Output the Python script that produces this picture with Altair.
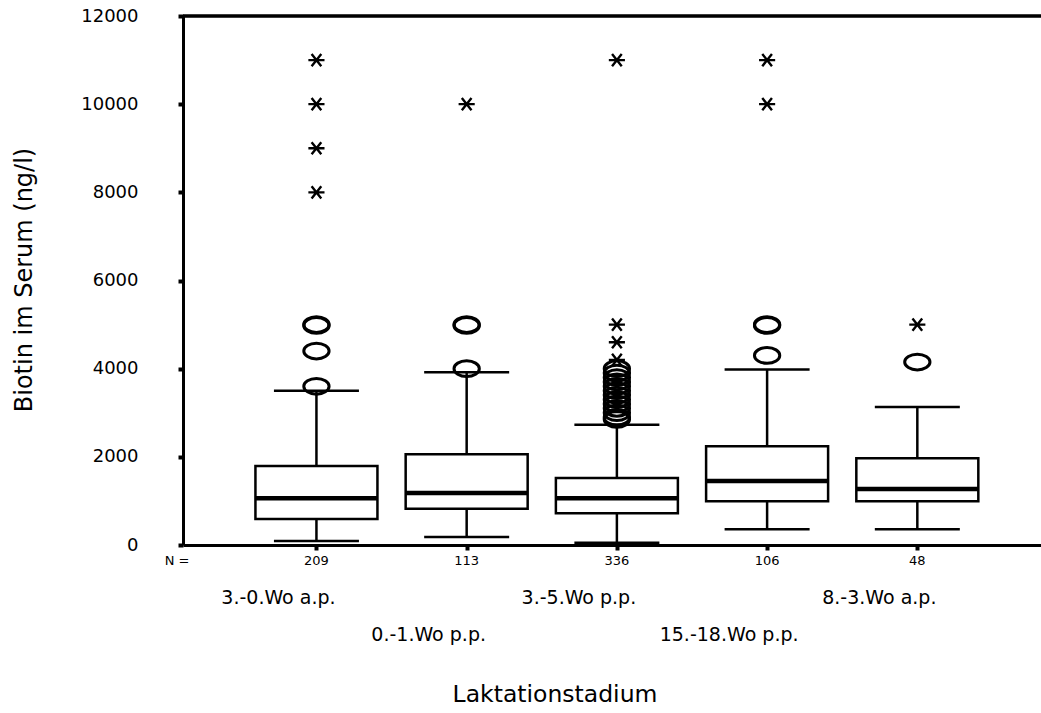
import altair as alt
import pandas as pd

# ---- data ----
groups = ["3.-0.Wo a.p.", "0.-1.Wo p.p.", "3.-5.Wo p.p.", "15.-18.Wo p.p.", "8.-3.Wo a.p."]
positions = [1, 2, 3, 4, 5]
counts = [209, 113, 336, 106, 48]
whisker_low = [90, 180, 50, 360, 360]
q1 = [590, 820, 720, 990, 990]
median = [1060, 1180, 1060, 1450, 1270]
q3 = [1790, 2060, 1520, 2240, 1970]
whisker_high = [3500, 3920, 2730, 3980, 3130]
label_row = [1, 2, 1, 2, 1]

outlier_pos = [1, 1, 1, 1,
               2, 2, 2,
               3, 3, 3, 3, 3, 3, 3, 3, 3, 3, 3, 3, 3,
               4, 4, 4,
               5]
outlier_value = [5000, 4980, 4400, 3600,
                 5000, 4980, 4000,
                 2850, 2900, 3000, 3100, 3200, 3300, 3400, 3500, 3600, 3700, 3800, 3900, 4000,
                 5000, 4980, 4300,
                 4150]

extreme_pos = [1, 1, 1, 1, 2, 3, 3, 3, 3, 4, 4, 5]
extreme_value = [11000, 10000, 9000, 8000, 10000, 11000, 5000, 4600, 4200, 11000, 10000, 5000]

y_ticks = [0, 2000, 4000, 6000, 8000, 10000, 12000]
n_label = ["N ="]
y_title = ["Biotin im Serum (ng/l)"]
x_title = ["Laktationstadium"]

# ---- tables ----
box_df = pd.DataFrame({
    "group": groups, "pos": positions, "n": counts,
    "lo": whisker_low, "q1": q1, "med": median, "q3": q3, "hi": whisker_high,
    "row": label_row,
})
out_df = pd.DataFrame({"pos": outlier_pos, "value": outlier_value})
ext_df = pd.DataFrame({"pos": extreme_pos, "value": extreme_value})

FONT = "DejaVu Sans"
W, H = 858, 529

xscale = alt.Scale(domain=[0.145, 5.79], nice=False, zero=False)
yscale = alt.Scale(domain=[0, 12000], nice=False, zero=True)

x_axis = alt.Axis(values=positions, labels=False, title=None, grid=False,
                  ticks=True, tickSize=5, tickWidth=4, tickColor="black",
                  domainColor="black", domainWidth=3)
y_axis = alt.Axis(values=y_ticks, title=None, grid=False, format="d",
                  ticks=True, tickSize=5, tickWidth=4, tickColor="black",
                  domainColor="black", domainWidth=3,
                  labelFont=FONT, labelFontSize=18, labelColor="black",
                  labelPadding=40)


def X():
    return alt.X("pos:Q", scale=xscale, axis=x_axis)


def Y(field):
    return alt.Y(field, scale=yscale, axis=y_axis)


base = alt.Chart(box_df)

wl = base.mark_rule(strokeWidth=2.5, color="black").encode(
    x=X(), y=Y("lo:Q"), y2="q1:Q")
wh = base.mark_rule(strokeWidth=2.5, color="black").encode(
    x=X(), y=Y("q3:Q"), y2="hi:Q")
box = base.mark_bar(size=122, fill="white", stroke="black", strokeWidth=2.5).encode(
    x=X(), y=Y("q1:Q"), y2="q3:Q")
cap_lo = base.mark_tick(orient="horizontal", size=85, thickness=2.5, color="black", opacity=1).encode(
    x=X(), y=Y("lo:Q"))
cap_hi = base.mark_tick(orient="horizontal", size=85, thickness=2.5, color="black", opacity=1).encode(
    x=X(), y=Y("hi:Q"))
med = base.mark_tick(orient="horizontal", size=122, thickness=4.5, color="black", opacity=1).encode(
    x=X(), y=Y("med:Q"))

ellipse = "M -1 0 A 1 0.62 0 1 0 1 0 A 1 0.62 0 1 0 -1 0 Z"
asterisk = "M -1 0 L 1 0 M -0.6 -0.75 L 0.6 0.75 M -0.6 0.75 L 0.6 -0.75"

circles = alt.Chart(out_df).mark_point(shape=ellipse, size=640, filled=False,
                                        stroke="black", strokeWidth=3, opacity=1).encode(
    x=X(), y=Y("value:Q"))
stars = alt.Chart(ext_df).mark_point(shape=asterisk, size=260, filled=False,
                                      stroke="black", strokeWidth=2.4, opacity=1).encode(
    x=X(), y=Y("value:Q"))

top_line = base.mark_rule(strokeWidth=2.5, color="black").encode(
    x=alt.value(0), x2=alt.value(W), y=alt.value(0))

n_text = base.mark_text(font=FONT, fontSize=13, color="black", baseline="middle").encode(
    x=X(), y=alt.value(H + 16), text="n:Q")
n_lab = alt.Chart(pd.DataFrame({"t": n_label})).mark_text(
    font=FONT, fontSize=13, color="black", baseline="middle").encode(
    x=alt.value(-6), y=alt.value(H + 16), text="t:N")

row1 = base.transform_filter("datum.row == 1").mark_text(
    font=FONT, fontSize=19, color="black", baseline="middle", dx=-38).encode(
    x=X(), y=alt.value(H + 53), text="group:N")
row2 = base.transform_filter("datum.row == 2").mark_text(
    font=FONT, fontSize=19, color="black", baseline="middle", dx=-38).encode(
    x=X(), y=alt.value(H + 90), text="group:N")

xt = alt.Chart(pd.DataFrame({"t": x_title})).mark_text(
    font=FONT, fontSize=23.5, color="black", baseline="middle").encode(
    x=alt.value(372), y=alt.value(679), text="t:N")
yt = alt.Chart(pd.DataFrame({"t": y_title})).mark_text(
    font=FONT, fontSize=24, color="black", baseline="middle", angle=270).encode(
    x=alt.value(-158), y=alt.value(264), text="t:N")

chart = alt.layer(
    box, wl, wh, med, cap_lo, cap_hi, circles, stars, top_line,
    n_text, n_lab, row1, row2, xt, yt
).properties(
    width=W, height=H,
    autosize=alt.AutoSizeParams(type="none"),
    padding={"left": 183, "top": 16, "right": 0, "bottom": 168},
    background="white",
).configure_view(stroke=None)

chart.save("out.html", embed_options={"renderer": "svg", "actions": False})
